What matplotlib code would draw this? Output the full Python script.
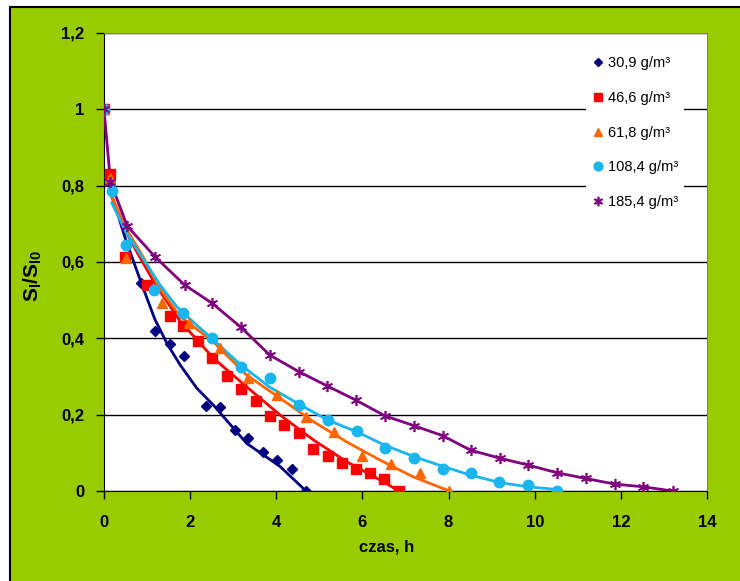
import matplotlib
matplotlib.use("Agg")
import matplotlib.pyplot as plt
from matplotlib.patches import Rectangle
from matplotlib.ticker import FuncFormatter, MultipleLocator

plt.rcParams['font.family'] = ['Liberation Sans', 'DejaVu Sans']
plt.rcParams['mathtext.fontset'] = 'custom'
plt.rcParams['mathtext.bf'] = 'Liberation Sans:bold'
plt.rcParams['mathtext.rm'] = 'Liberation Sans'

# dane pomiarowe (markery)
t_309 = [0, 0.15, 0.85, 1.18, 1.53, 1.86, 2.37, 2.69, 3.03, 3.35, 3.68, 4.02, 4.37, 4.69]
s_309 = [1, 0.81, 0.546, 0.42, 0.385, 0.354, 0.223, 0.219, 0.16, 0.138, 0.103, 0.081, 0.057, 0.0]

t_466 = [0, 0.15, 0.49, 0.99, 1.53, 1.84, 2.19, 2.51, 2.85, 3.18, 3.52, 3.85, 4.19, 4.52,
         4.86, 5.19, 5.52, 5.85, 6.18, 6.51, 6.85]
s_466 = [1, 0.83, 0.612, 0.54, 0.458, 0.432, 0.394, 0.348, 0.302, 0.267, 0.237, 0.196, 0.173,
         0.153, 0.109, 0.092, 0.074, 0.057, 0.048, 0.031, 0.0]

t_618 = [0, 0.15, 0.5, 1.34, 1.97, 2.69, 3.35, 4.02, 4.69, 5.34, 6.0, 6.67, 7.34, 8.02]
s_618 = [1, 0.82, 0.61, 0.493, 0.44, 0.374, 0.295, 0.251, 0.195, 0.155, 0.092, 0.07, 0.048, 0.0]

t_1084 = [0, 0.18, 0.51, 1.16, 1.84, 2.51, 3.18, 3.85, 4.52, 5.19, 5.87, 6.52, 7.2, 7.87,
          8.51, 9.18, 9.85, 10.51]
s_1084 = [1, 0.786, 0.644, 0.527, 0.466, 0.40, 0.324, 0.295, 0.225, 0.186, 0.157, 0.112,
          0.086, 0.058, 0.048, 0.024, 0.016, 0.0]

t_1854 = [0, 0.15, 0.54, 1.19, 1.87, 2.51, 3.18, 3.85, 4.52, 5.17, 5.85, 6.52, 7.2, 7.86,
          8.51, 9.19, 9.85, 10.51, 11.18, 11.86, 12.52, 13.2]
s_1854 = [1, 0.81, 0.694, 0.613, 0.54, 0.492, 0.429, 0.356, 0.313, 0.276, 0.238, 0.197,
          0.171, 0.145, 0.107, 0.086, 0.068, 0.048, 0.033, 0.018, 0.011, 0.0]

# krzywe dopasowania
ft_309 = [0.18, 0.5, 0.85, 1.18, 1.47, 1.77, 2.15, 2.54, 3.31, 4.09, 4.69]
fs_309 = [0.775, 0.66, 0.55, 0.45, 0.385, 0.33, 0.27, 0.225, 0.125, 0.064, 0.0]

ft_466 = [0.18, 0.5, 0.87, 1.2, 1.53, 1.77, 2.54, 3.31, 4.09, 4.86, 5.63, 6.41, 6.85]
fs_466 = [0.77, 0.68, 0.605, 0.54, 0.485, 0.445, 0.348, 0.273, 0.199, 0.134, 0.077, 0.029, 0.0]

ft_618 = [0.18, 0.5, 0.9, 1.3, 1.77, 2.54, 3.31, 4.09, 4.86, 5.63, 6.41, 7.18, 8.02]
fs_618 = [0.773, 0.69, 0.615, 0.53, 0.457, 0.391, 0.304, 0.243, 0.182, 0.129, 0.081, 0.037, 0.0]

ft_1084 = [0.18, 0.5, 0.9, 1.3, 1.69, 2.1, 2.54, 3.18, 3.85, 4.52, 5.19, 5.87, 6.52, 7.2, 7.88,
           8.5, 9.19, 9.85, 10.51]
fs_1084 = [0.755, 0.68, 0.61, 0.54, 0.483, 0.44, 0.396, 0.33, 0.272, 0.228, 0.186, 0.155,
           0.12, 0.09, 0.064, 0.042, 0.022, 0.011, 0.004]

labels = ["30,9 g/m³", "46,6 g/m³", "61,8 g/m³", "108,4 g/m³", "185,4 g/m³"]
x_ticks = [0, 2, 4, 6, 8, 10, 12, 14]

fig = plt.figure(figsize=(7.4, 5.81), dpi=100)
fig.patch.set_facecolor("white")
bg = Rectangle((10 / 740, -0.02), 1.1, 1 - 7 / 581 + 0.02, transform=fig.transFigure,
               facecolor="#99CC00", edgecolor="black", linewidth=1.5, zorder=-1)
fig.add_artist(bg)

ax = fig.add_axes([104 / 740, 1 - 491 / 581, 603 / 740, 458 / 581])
ax.set_facecolor("white")

navy = "#000080"
red = "#FF0000"
orange = "#FF6600"
cyan = "#19B5EE"
purple = "#800080"

ax.plot(ft_309, fs_309, color=navy, lw=2, zorder=3)
ax.plot(ft_466, fs_466, color=red, lw=2, zorder=3)
ax.plot(ft_618, fs_618, color=orange, lw=2, zorder=3)
ax.plot(ft_1084, fs_1084, color=cyan, lw=2, zorder=3)
ax.plot(t_1854, s_1854, color=purple, lw=2, zorder=3)

ax.plot(t_309, s_309, ls="none", marker="D", ms=5, color=navy, label=labels[0], zorder=4)
ax.plot(t_466, s_466, ls="none", marker="s", ms=7, color=red, label=labels[1], zorder=4)
ax.plot(t_618, s_618, ls="none", marker="^", ms=7.5, color=orange, label=labels[2], zorder=4)
ax.plot(t_1084, s_1084, ls="none", marker="o", ms=7.5, color=cyan, label=labels[3], zorder=4)
ax.plot(t_1854, s_1854, ls="none", marker=(6, 2, 0), ms=8, mew=1.2, color=purple,
        label=labels[4], zorder=4)

ax.set_xlim(0, 14)
ax.set_ylim(0, 1.2)
ax.set_xticks(x_ticks)
ax.yaxis.set_major_locator(MultipleLocator(0.2))
fmt = FuncFormatter(lambda v, p: f"{v:.1f}".rstrip("0").rstrip(".").replace(".", ","))
ax.xaxis.set_major_formatter(fmt)
ax.yaxis.set_major_formatter(fmt)
ax.grid(axis="y", color="black", lw=1)
ax.set_axisbelow(True)

for s in ["top", "right"]:
    ax.spines[s].set_color("#808080")
for s in ["left", "bottom"]:
    ax.spines[s].set_color("black")
ax.tick_params(direction="out", length=6, width=1, labelsize=12)
ax.tick_params(axis="y", pad=8)
ax.tick_params(axis="x", pad=11)
for lab in ax.get_xticklabels() + ax.get_yticklabels():
    lab.set_fontweight("bold")

ax.set_xlabel("czas, h", fontsize=12, fontweight="bold")
ax.xaxis.set_label_coords(0.468, -0.105)
ax.set_ylabel(r"$\mathbf{S_l/S_{l0}}$", fontsize=15)
ax.yaxis.set_label_coords(-0.10, 0.47)

leg = ax.legend(loc="upper left", bbox_to_anchor=(0.80, 0.962), borderaxespad=0,
                frameon=True, fontsize=10.5, handlelength=0.8, handletextpad=0.3,
                labelspacing=1.42, borderpad=0.4, markerscale=0.85)
leg.get_frame().set_facecolor("white")
leg.get_frame().set_edgecolor("none")
leg.get_frame().set_alpha(1)

fig.savefig("out.png", dpi=100)
